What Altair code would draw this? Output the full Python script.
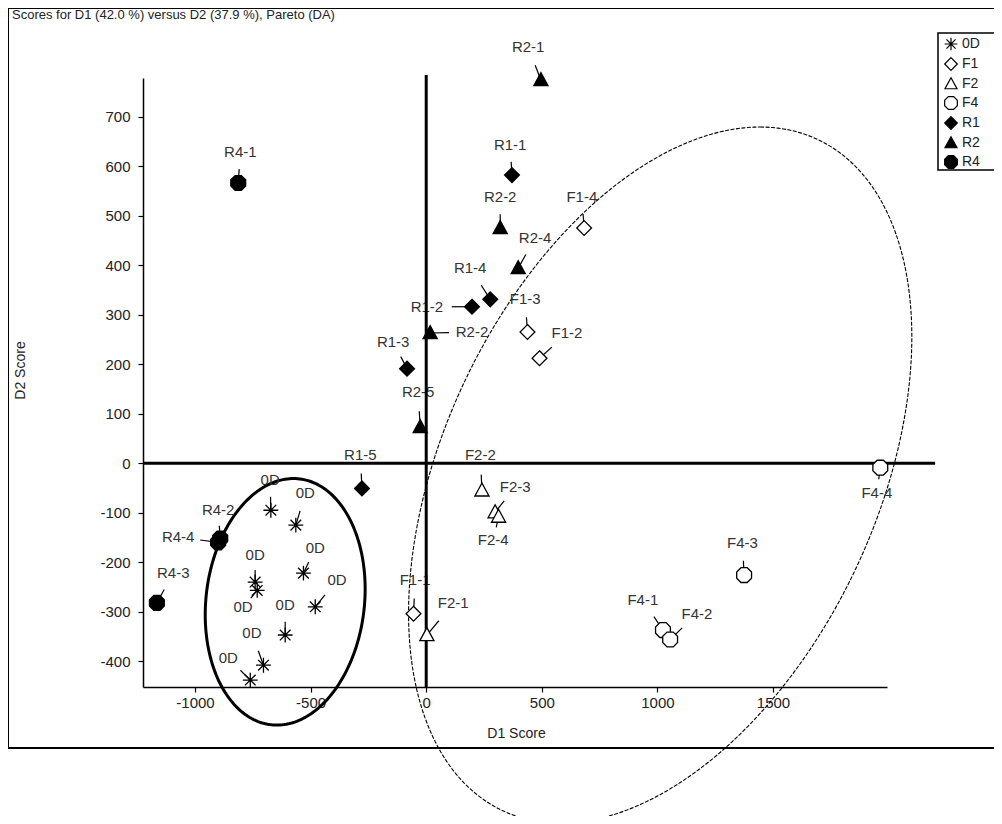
import altair as alt
import pandas as pd
import numpy as np

# ---- data ----
groups = ["0D"] * 9 + ["F1"] * 4 + ["F2"] * 4 + ["F4"] * 4 + ["R1"] * 5 + ["R2"] * 5 + ["R4"] * 4
names = (["0D"] * 9
         + ["F1-1", "F1-2", "F1-3", "F1-4"]
         + ["F2-1", "F2-2", "F2-3", "F2-4"]
         + ["F4-1", "F4-2", "F4-3", "F4-4"]
         + ["R1-1", "R1-2", "R1-3", "R1-4", "R1-5"]
         + ["R2-1", "R2-2", "R2-4", "R2-2", "R2-5"]
         + ["R4-1", "R4-2", "R4-4", "R4-3"])
d1 = [-672, -564, -531, -740, -731, -480, -610, -704, -761,
      -55, 490, 438, 683,
      3, 241, 298, 313,
      1024, 1055, 1375, 1964,
      371, 198, -83, 277, -278,
      496, 320, 398, 17, -26,
      -813, -891, -900, -1165]
d2 = [-95, -125, -222, -240, -257, -290, -347, -408, -438,
      -304, 212, 265, 475,
      -347, -55, -99, -108,
      -337, -356, -226, -9,
      582, 316, 191, 331, -51,
      774, 475, 394, 263, 73,
      566, -152, -160, -282]
label_d1 = [-675, -523, -480, -740, -792, -386, -610, -754, -856,
            -48, 609, 428, 673,
            117, 234, 385, 290,
            937, 1171, 1368, 1949,
            363, 3, -143, 190, -285,
            441, 320, 471, 198, -35,
            -804, -900, -1073, -1094]
label_d2 = [-34, -61, -172, -186, -291, -236, -287, -343, -394,
            -236, 262, 331, 538,
            -283, 16, -48, -156,
            -277, -304, -162, -61,
            642, 316, 245, 394, 16,
            840, 537, 455, 265, 144,
            628, -95, -149, -222]

group_order = ["0D", "F1", "F2", "F4", "R1", "R2", "R4"]
x_ticks = [-1000, -500, 0, 500, 1000, 1500]
y_ticks = [-400, -300, -200, -100, 0, 100, 200, 300, 400, 500, 600, 700]

# ellipses: centre and conjugate half-axes (data units)
ell_small = dict(cx=-610, cy=-280, ux=36, uy=249, vx=344)
ell_big = dict(cx=1012, cy=-24, ux=432, uy=703, vx=999)

# zero reference lines (extent in data units)
hline = pd.DataFrame({"x": [-1225], "x2": [2201], "y": [0], "y2": [0]})
vline = pd.DataFrame({"x": [0], "x2": [0], "y": [-452], "y2": [784]})

XDOM = [-1225, 1993]
YDOM = [-452, 778]

# ---- build tables ----
pts = pd.DataFrame({"group": groups, "name": names, "d1": d1, "d2": d2,
                    "ld1": label_d1, "ld2": label_d2})
pts["lx"] = pts["d1"] + 0.45 * (pts["ld1"] - pts["d1"])
pts["ly"] = pts["d2"] + 0.45 * (pts["ld2"] - pts["d2"])


def ellipse(p, n=240):
    t = np.linspace(0, 2 * np.pi, n)
    return pd.DataFrame({"i": np.arange(n),
                         "x": p["cx"] + p["ux"] * np.cos(t) + p["vx"] * np.sin(t),
                         "y": p["cy"] + p["uy"] * np.cos(t)})


xs = alt.Scale(domain=XDOM, nice=False, zero=False)
ys = alt.Scale(domain=YDOM, nice=False, zero=False)

FONT = "Liberation Sans"

asterisk = "M0,-1L0,1M-1,0L1,0M-0.72,-0.72L0.72,0.72M-0.72,0.72L0.72,-0.72"
diamond = "M0,-1L1,0L0,1L-1,0Z"
triangle = "M0,-1L0.95,0.75L-0.95,0.75Z"
octagon = "M-0.42,-1L0.42,-1L1,-0.42L1,0.42L0.42,1L-0.42,1L-1,0.42L-1,-0.42Z"

shape_range = [asterisk, diamond, triangle, octagon, diamond, triangle, octagon]
fill_range = ["transparent", "white", "white", "white", "black", "black", "black"]
stroke_range = ["black"] * 7

one = pd.DataFrame({"a": [0]})
border = alt.Chart(one).mark_rect(
    fill="transparent", stroke="black", strokeWidth=2
).encode(x=alt.value(-135), x2=alt.value(900), y=alt.value(-70), y2=alt.value(670))

legend_box = alt.Chart(one).mark_rect(
    fill="white", stroke="black", strokeWidth=1.5
).encode(x=alt.value(795), x2=alt.value(900), y=alt.value(-45), y2=alt.value(92))

title = alt.Chart(pd.DataFrame({"t": ["Scores for D1 (42.0 %) versus D2 (37.9 %), Pareto (DA)"]})).mark_text(
    align="left", baseline="middle", fontSize=13, font=FONT, color="#222"
).encode(x=alt.value(-131), y=alt.value(-63), text="t:N")

small = alt.Chart(ellipse(ell_small)).mark_line(color="black", strokeWidth=3).encode(
    x=alt.X("x:Q", scale=xs), y=alt.Y("y:Q", scale=ys), order="i:Q")
big = alt.Chart(ellipse(ell_big)).mark_line(color="black", strokeWidth=1.1, strokeDash=[4, 1.5]).encode(
    x=alt.X("x:Q", scale=xs), y=alt.Y("y:Q", scale=ys), order="i:Q")

hr = alt.Chart(hline).mark_rule(color="black", strokeWidth=3).encode(
    x=alt.X("x:Q", scale=xs), x2="x2:Q", y=alt.Y("y:Q", scale=ys))
vr = alt.Chart(vline).mark_rule(color="black", strokeWidth=3).encode(
    x=alt.X("x:Q", scale=xs), y=alt.Y("y:Q", scale=ys), y2="y2:Q")

leaders = alt.Chart(pts).mark_rule(color="black", strokeWidth=1.2).encode(
    x=alt.X("d1:Q", scale=xs), x2="lx:Q", y=alt.Y("d2:Q", scale=ys), y2="ly:Q")

labels = alt.Chart(pts).mark_text(fontSize=15, font=FONT, color="#333", baseline="middle").encode(
    x=alt.X("ld1:Q", scale=xs), y=alt.Y("ld2:Q", scale=ys), text="name:N")

leg = alt.Legend(title=None, orient="none", legendX=797, legendY=-45)
points = alt.Chart(pts).mark_point(filled=True, stroke="black", strokeWidth=1.3, opacity=1, size=220).encode(
    x=alt.X("d1:Q", scale=xs, title="D1 Score",
            axis=alt.Axis(values=x_ticks, format="d", labelExpr="replace(datum.label, '\u2212', '-')",
                          titleX=373, titleY=46, titleBaseline="middle")),
    y=alt.Y("d2:Q", scale=ys, title="D2 Score",
            axis=alt.Axis(values=y_ticks, format="d", labelExpr="replace(datum.label, '\u2212', '-')",
                          titleX=-123, titleY=292, titleBaseline="middle")),
    shape=alt.Shape("group:N", scale=alt.Scale(domain=group_order, range=shape_range), legend=leg),
    fill=alt.Fill("group:N", scale=alt.Scale(domain=group_order, range=fill_range), legend=leg),
    stroke=alt.Stroke("group:N", scale=alt.Scale(domain=group_order, range=stroke_range), legend=leg),
)

chart = alt.layer(border, title, big, small, labels, hr, vr, leaders, legend_box, points).properties(
    width=744, height=609,
    autosize=alt.AutoSizeParams(type="none"),
    padding={"left": 135, "top": 70, "right": 107, "bottom": 129},
).configure_view(stroke=None).configure_axis(
    grid=False, domainColor="black", domainWidth=1.5, tickColor="black", tickSize=5,
    tickWidth=1.2, labelFont=FONT, labelFontSize=15, labelColor="#222",
    titleFont=FONT, titleFontSize=14, titleFontWeight="normal", titleColor="#222",
).configure_axisY(labelPadding=8).configure_axisX(labelPadding=3).configure_legend(
    padding=4, labelFont=FONT, labelFontSize=14,
    labelColor="#222", symbolSize=160, symbolStrokeColor="black", symbolStrokeWidth=1.2,
    rowPadding=2, labelOffset=4,
)

chart.save("out.html", embed_options={"renderer": "svg", "actions": False})
